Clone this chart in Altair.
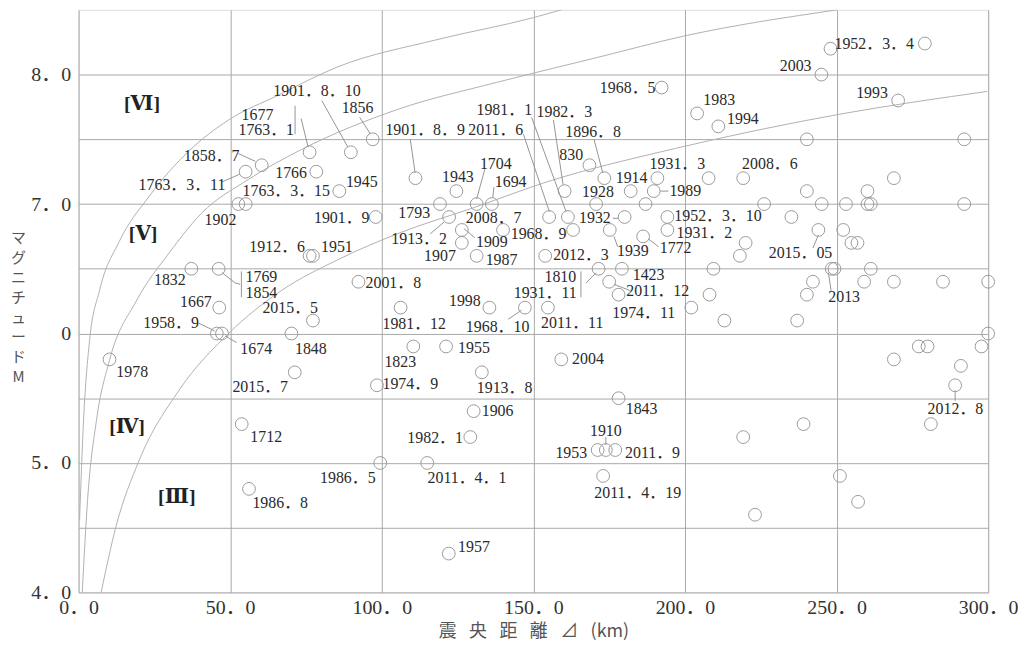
import altair as alt
import pandas as pd

SERIF = "'Liberation Serif','DejaVu Serif','Noto Sans CJK JP',serif"
JP = "'Noto Sans CJK JP',sans-serif"

# ---- earthquakes: epicentral distance (km) and magnitude ----
dist_km = [248.0, 279.1, 245.0, 192.3, 204.0, 211.0, 270.3, 240.2, 292.1,
           76.2, 60.4, 55.1, 78.4, 86.0, 52.7, 55.1, 89.8, 97.0, 98.0, 111.1,
           155.2, 161.4, 160.3, 173.4, 168.5, 190.9, 182.1, 170.7, 189.7, 207.8, 187.0,
           124.6, 131.3, 136.3, 119.2, 122.2, 126.4, 126.4, 131.3, 140.0, 163.1, 180.1, 153.9, 175.2, 186.2, 194.2, 194.2,
           235.1, 244.0, 252.2, 254.9, 256.9, 220.0, 218.1, 209.4, 248.4, 249.3, 261.3,
           226.1, 245.1, 253.1, 260.2, 261.3, 292.1, 240.2, 260.2, 219.2, 268.9,
           242.2, 240.2, 259.1, 268.9, 285.1, 300.0, 208.1, 202.1, 213.0, 237.0,
           300.0, 277.1, 280.0, 297.8, 268.9, 291.0, 289.1,
           219.2, 239.1, 281.1, 251.1, 257.1, 223.1,
           92.3, 135.5, 106.2, 147.2, 154.8, 171.5, 179.2, 175.0, 178.1,
           121.2, 110.4, 98.4, 133.0, 159.2, 178.1, 130.3, 129.2, 99.5, 115.0, 122.1,
           171.2, 173.9, 177.0, 173.0,
           46.4, 77.3, 45.6, 47.3, 70.2, 10.2, 71.3, 53.8, 56.2, 76.2, 77.3, 37.2, 46.2]
magnitude = [8.20, 8.24, 8.00, 7.90, 7.70, 7.60, 7.80, 7.50, 7.50,
             7.40, 7.30, 7.25, 7.25, 7.10, 7.00, 7.00, 7.40, 7.50, 6.90, 7.20,
             6.90, 6.90, 7.10, 7.20, 7.30, 7.20, 7.10, 7.00, 7.10, 7.20, 7.00,
             7.10, 7.00, 7.00, 7.00, 6.90, 6.80, 6.70, 6.60, 6.80, 6.80, 6.90, 6.60, 6.80, 6.75, 6.90, 6.80,
             6.90, 6.80, 6.80, 6.70, 6.70, 6.70, 6.60, 6.50, 6.50, 6.50, 6.50,
             7.00, 7.00, 7.00, 7.00, 7.00, 7.00, 7.10, 7.10, 7.20, 7.20,
             6.40, 6.30, 6.40, 6.40, 6.40, 6.40, 6.30, 6.20, 6.10, 6.10,
             6.00, 5.90, 5.90, 5.90, 5.80, 5.75, 5.60,
             5.20, 5.30, 5.30, 4.90, 4.70, 4.60,
             6.40, 6.20, 6.20, 6.20, 6.20, 6.50, 6.50, 6.40, 6.30,
             5.90, 5.90, 5.60, 5.70, 5.80, 5.50, 5.40, 5.20, 5.00, 5.00, 4.30,
             5.10, 5.10, 5.10, 4.90,
             6.20, 6.10, 6.00, 6.00, 6.00, 5.80, 5.70, 5.30, 4.80, 6.60, 6.60, 6.50, 6.50]

# ---- date labels (text, km, M of the label) ----
label_text = ["1952.3.4", "2003", "1968.5", "1983", "1994", "1993",
              "1901.8.10", "1856", "1677", "1763.1", "1858.7", "1763.3.11",
              "1766", "1763.3.15", "1945", "1902", "1901.9", "1901.8.9",
              "2011.6", "1981.1", "1982.3", "1896.8", "830", "1931.3",
              "1914", "1928", "1989", "2008.6", "1943", "1704",
              "1694", "1793", "2008.7", "1913.2", "1909", "1907",
              "1987", "1968.9", "1932", "2012.3", "1939", "1772",
              "1952.3.10", "1931.2", "2015.05", "2013", "2012.8", "2001.8",
              "1998", "1981.12", "1968.10", "2011.11", "1810", "1931.11",
              "1423", "2011.12", "1974.11", "1955", "1823", "1974.9",
              "1913.8", "2004", "1843", "1906", "1982.1", "1986.5",
              "2011.4.1", "1957", "1910", "1953", "2011.9", "2011.4.19",
              "1667", "2015.5", "1958.9", "1674", "1848", "1978",
              "2015.7", "1712", "1986.8", "1912.6", "1951", "1832",
              "1769", "1854"]
label_km = [262.4, 236.5, 181.1, 211.3, 219.1, 261.7,
            78.6, 92.0, 59.0, 61.9, 43.9, 34.1,
            70.1, 68.5, 93.4, 46.8, 86.8, 114.3,
            137.6, 140.4, 160.2, 169.7, 162.5, 197.5,
            182.4, 171.3, 200.1, 228.0, 125.1, 137.6,
            142.5, 110.7, 136.9, 112.3, 136.3, 119.2,
            139.5, 151.7, 170.3, 165.7, 182.8, 196.9,
            210.9, 206.4, 238.1, 252.5, 289.2, 103.8,
            127.4, 110.7, 138.2, 162.8, 158.9, 153.9,
            188.0, 191.0, 186.4, 130.4, 106.1, 109.4,
            140.5, 168.0, 185.7, 138.2, 117.6, 88.8,
            128.1, 130.4, 173.9, 162.5, 189.3, 184.4,
            38.7, 69.8, 30.5, 58.6, 76.6, 17.7,
            59.9, 61.9, 66.5, 65.5, 85.2, 30.1,
            60.3, 60.3]
label_m = [8.24, 8.07, 7.90, 7.80, 7.66, 7.86,
           7.87, 7.74, 7.69, 7.57, 7.37, 7.15,
           7.24, 7.10, 7.17, 6.88, 6.89, 7.57,
           7.57, 7.73, 7.71, 7.56, 7.38, 7.31,
           7.20, 7.09, 7.10, 7.31, 7.21, 7.31,
           7.17, 6.93, 6.89, 6.73, 6.71, 6.60,
           6.57, 6.77, 6.89, 6.61, 6.64, 6.66,
           6.91, 6.78, 6.62, 6.28, 5.42, 6.39,
           6.25, 6.07, 6.05, 6.08, 6.44, 6.31,
           6.45, 6.33, 6.16, 5.89, 5.78, 5.61,
           5.58, 5.80, 5.42, 5.40, 5.19, 4.88,
           4.88, 4.35, 5.25, 5.08, 5.08, 4.77,
           6.24, 6.20, 6.08, 5.88, 5.88, 5.70,
           5.59, 5.20, 4.69, 6.67, 6.67, 6.41,
           6.44, 6.31]

# ---- leader lines and brackets (km1, M1, km2, M2) ----
lead_km1 = [80.2, 92.7, 73.4, 71.4, 52.7, 47.2, 109.4, 146.7, 149.4, 156.6, 170.0, 191.9,
            134.0, 137.0, 116.0, 127.1, 176.2, 176.6, 188.0, 242.2, 247.3, 289.1, 165.7,
            167.4, 176.6, 141.7, 173.9, 39.6, 48.5, 47.3, 51.7, 53.7]
lead_m1 = [7.80, 7.67, 7.66, 7.76, 7.39, 7.17, 7.50, 7.54, 7.67, 7.65, 7.50, 7.10,
           7.27, 7.13, 6.77, 6.81, 6.89, 6.75, 6.73, 6.66, 6.47, 5.56, 6.48,
           6.39, 6.38, 6.11, 5.20, 6.08, 5.98, 6.47, 6.39, 6.48]
lead_km2 = [88.8, 96.3, 75.7, 71.4, 58.3, 53.1, 111.0, 155.3, 160.8, 159.8, 172.9, 194.5,
            131.3, 136.6, 120.5, 130.7, 177.9, 177.8, 191.3, 244.0, 248.2, 289.1, 165.7,
            170.7, 182.1, 146.1, 173.9, 44.9, 52.1, 51.7, 53.3, 53.7]
lead_m2 = [7.44, 7.54, 7.44, 7.54, 7.33, 7.23, 7.24, 6.94, 6.94, 7.15, 7.24, 7.10,
           7.04, 7.05, 6.86, 6.74, 6.89, 6.67, 6.67, 6.76, 6.33, 5.48, 6.28,
           6.47, 6.33, 6.18, 5.14, 6.02, 5.93, 6.39, 6.38, 6.28]

# ---- intensity boundary curves ----
curve_vi_km = [0.33, 1.64, 3.60, 6.88, 13.4, 23.3, 36.4, 49.5, 65.8, 85.5, 118.2, 150.0, 159.2]
curve_vi_m = [4.56, 5.33, 5.94, 6.33, 6.71, 7.06, 7.41, 7.65, 7.84, 8.06, 8.27, 8.44, 8.50]
curve_v_km = [1.21, 2.95, 5.90, 10.15, 19.0, 29.8, 40.6, 56.0, 73.4, 105.1, 137.9, 170.7, 200.1, 250.2]
curve_v_m = [4.00, 4.71, 5.33, 5.79, 6.25, 6.62, 6.93, 7.19, 7.42, 7.73, 7.94, 8.13, 8.30, 8.50]
curve_iv_km = [7.44, 12.35, 19.98, 33.08, 49.46, 66.8, 85.5, 105.1, 131.3, 154.3, 196.9, 252.5, 299.7]
curve_iv_m = [4.00, 4.51, 5.02, 5.56, 6.00, 6.33, 6.57, 6.77, 6.98, 7.17, 7.43, 7.70, 7.87]

zone_text = ["[Ⅵ]", "[Ⅴ]", "[Ⅳ]", "[Ⅲ]"]
zone_km = [20.9, 21.3, 16.0, 32.4]
zone_m = [7.77, 6.77, 5.28, 4.74]

x_ticks = [0, 50, 100, 150, 200, 250, 300]
y_grid = [4.0, 4.5, 5.0, 5.5, 6.0, 6.5, 7.0, 7.5, 8.0]

# ---- tables ----
pts = pd.DataFrame({"km": dist_km, "M": magnitude})
labs = pd.DataFrame({"km": label_km, "M": label_m,
                     "t": [s.replace(".", "．") for s in label_text]})
leads = pd.DataFrame({"km": lead_km1, "M": lead_m1, "km2": lead_km2, "M2": lead_m2})
curves = pd.concat([
    pd.DataFrame({"km": curve_vi_km, "M": curve_vi_m, "c": "VI"}),
    pd.DataFrame({"km": curve_v_km, "M": curve_v_m, "c": "V"}),
    pd.DataFrame({"km": curve_iv_km, "M": curve_iv_m, "c": "IV"}),
])
zones = pd.DataFrame({"km": zone_km, "M": zone_m, "t": zone_text})

GAP = "\u2002\u2009"
x_title = GAP.join(["震", "央", "距", "離", "⊿", "(km)"])

x_axis = alt.Axis(values=x_ticks, grid=True, gridColor="#a8a8a8", gridWidth=1,
                  ticks=False, domain=False, labelFlush=False, labelOverlap=False,
                  labelExpr="replace(format(datum.value, '.1f'), '.', '．')",
                  labelFont=SERIF, labelFontSize=20, labelColor="#333", labelPadding=5,
                  title=x_title, titleFont=JP, titleFontSize=18,
                  titleFontWeight="normal", titleColor="#555", titlePadding=5)
y_axis = alt.Axis(values=y_grid, grid=True, gridColor="#a8a8a8", gridWidth=1,
                  ticks=False, domain=False, labelOverlap=False, labelFlush=False,
                  labelExpr="datum.value == 6 ? '0' : (datum.value % 1 == 0 ? replace(format(datum.value, '.1f'), '.', '．') : '')",
                  labelFont=SERIF, labelFontSize=20, labelColor="#333", labelPadding=8,
                  title=["マ", "グ", "ニ", "チ", "ュ", "ー", "ド", "\u3000", "M"],
                  titleAngle=0, titleX=-61, titleY=222, titleAlign="center",
                  titleBaseline="top", titleLineHeight=20, titleFont=JP, titleFontSize=15,
                  titleFontWeight="normal", titleColor="#555")

xs = alt.Scale(domain=[0, 300], nice=False, zero=False)
ys = alt.Scale(domain=[4.0, 8.5], nice=False, zero=False)

def X(f="km"):
    return alt.X(f"{f}:Q", scale=xs, axis=x_axis)

def Y(f="M"):
    return alt.Y(f"{f}:Q", scale=ys, axis=y_axis)

curve_layer = alt.Chart(curves).mark_line(color="#b0b0b0", strokeWidth=1, interpolate="monotone", clip=True).encode(
    x=X(), y=Y(), detail="c:N")
lead_layer = alt.Chart(leads).mark_rule(color="#8a8a8a", strokeWidth=0.9).encode(
    x=X(), y=Y(), x2="km2:Q", y2="M2:Q")
pt_layer = alt.Chart(pts).mark_point(shape="circle", filled=False, size=165, color="#9a9a9a",
                                     strokeWidth=1, opacity=1).encode(x=X(), y=Y())
lab_layer = alt.Chart(labs).mark_text(font=SERIF, fontSize=16, color="#2a2a2a",
                                      align="center", baseline="middle").encode(x=X(), y=Y(), text="t:N")
zone_layer = alt.Chart(zones).mark_text(font=SERIF, fontSize=20, fontWeight="bold", color="#222",
                                        align="center", baseline="middle").encode(x=X(), y=Y(), text="t:N")

chart = alt.layer(curve_layer, lead_layer, pt_layer, lab_layer, zone_layer).properties(
    width=915, height=586,
    padding={"left": 2, "top": 0, "right": 0, "bottom": 0},
).configure_view(stroke="#a0a0a0", strokeWidth=1).configure(background="white")

chart.save("out.html", embed_options={"renderer": "svg", "actions": False})
